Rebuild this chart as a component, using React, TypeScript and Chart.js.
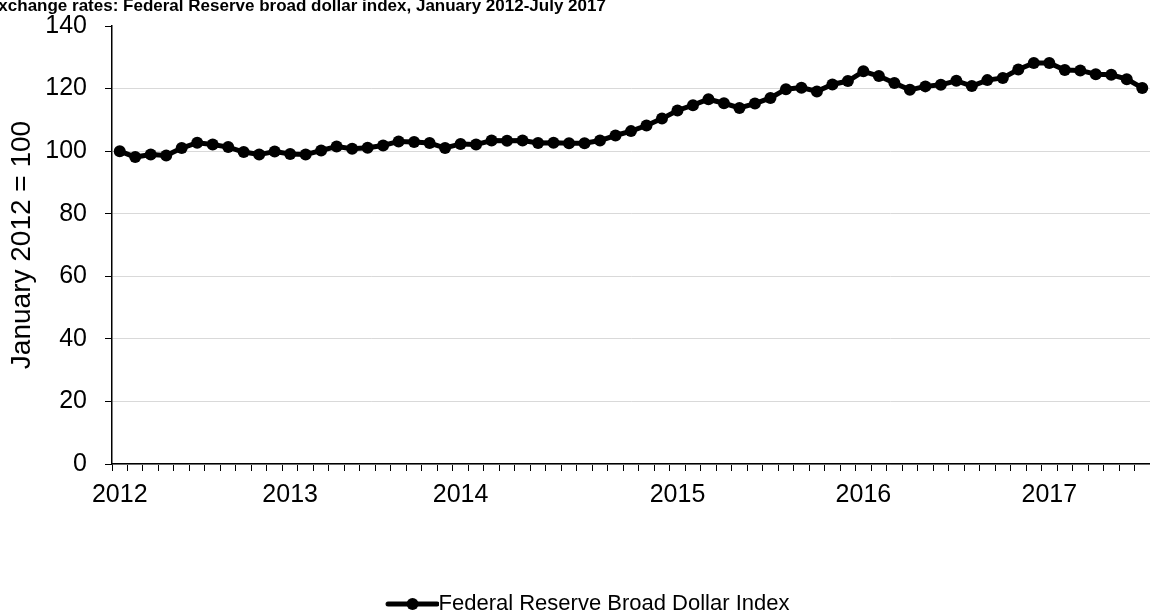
import React, { useEffect, useRef } from 'react';
import { Chart, registerables } from 'chart.js';

Chart.register(...registerables);

const TITLE = 'Exchange rates: Federal Reserve broad dollar index, January 2012-July 2017';
const SERIES_NAME = 'Federal Reserve Broad Dollar Index';
const Y_AXIS_TITLE = 'January 2012 = 100';

const MONTHS = ['Jan', 'Feb', 'Mar', 'Apr', 'May', 'Jun', 'Jul', 'Aug', 'Sep', 'Oct', 'Nov', 'Dec'];
const YEARS = [2012, 2013, 2014, 2015, 2016, 2017];

const values2012 = [100.0, 98.1, 98.9, 98.6, 101.0, 102.7, 102.1, 101.3, 99.7, 98.9, 99.9, 99.1];
const values2013 = [98.9, 100.2, 101.5, 100.8, 101.1, 101.8, 103.1, 102.9, 102.6, 101.0, 102.3, 102.1];
const values2014 = [103.4, 103.3, 103.4, 102.6, 102.7, 102.5, 102.5, 103.4, 105.0, 106.4, 108.2, 110.4];
const values2015 = [113.0, 114.7, 116.6, 115.3, 113.8, 115.2, 117.0, 119.8, 120.3, 119.1, 121.3, 122.4];
const values2016 = [125.5, 124.0, 121.8, 119.6, 120.7, 121.2, 122.5, 120.8, 122.7, 123.4, 126.1, 128.2];
const values2017 = [128.2, 125.9, 125.8, 124.6, 124.4, 123.0, 120.2];

const values = [...values2012, ...values2013, ...values2014, ...values2015, ...values2016, ...values2017];
const categories = YEARS.flatMap((y) => MONTHS.map((m) => `${m} ${y}`)).slice(0, values.length);

// year labels as placed on the reference axis
const yearTickLabels = ['2012', '2013', '2014', '2015', '2016', '2017'];
const yearTickIndex = [0, 11, 22, 36, 48, 60];

const Y_MIN = 0;
const Y_MAX = 140;
const Y_STEP = 20;

const FONT = '"Liberation Sans", Arial, Helvetica, sans-serif';

export default function App() {
  const ref = useRef<HTMLCanvasElement>(null);

  useEffect(() => {
    document.body.style.margin = '0';
    const canvas = ref.current;
    if (!canvas) return;

    const icon = document.createElement('canvas');
    icon.width = 90;
    icon.height = 16;
    const g = icon.getContext('2d');
    if (g) {
      g.strokeStyle = '#000';
      g.lineWidth = 5;
      g.lineCap = 'round';
      g.beginPath();
      g.moveTo(39, 8);
      g.lineTo(88, 8);
      g.stroke();
      g.fillStyle = '#000';
      g.beginPath();
      g.arc(63.5, 8, 6, 0, Math.PI * 2);
      g.fill();
    }

    const titlePlugin = {
      id: 'cutTitle',
      afterDraw(chart: any) {
        const c = chart.ctx;
        c.save();
        c.font = `bold 17px ${FONT}`;
        c.fillStyle = '#000';
        c.textAlign = 'left';
        c.textBaseline = 'alphabetic';
        c.fillText(TITLE, -13, 11);
        c.restore();
      },
    };

    Chart.defaults.font.family = FONT;

    const chart = new Chart(canvas, {
      type: 'line',
      data: {
        labels: categories,
        datasets: [
          {
            label: SERIES_NAME,
            data: values,
            borderColor: '#000',
            backgroundColor: '#000',
            borderWidth: 5,
            pointRadius: 6,
            pointBackgroundColor: '#000',
            pointBorderColor: '#000',
            pointBorderWidth: 0,
            tension: 0,
          },
        ],
      },
      options: {
        animation: false,
        responsive: false,
        layout: { autoPadding: false, padding: { top: 26, left: 0, right: 0, bottom: -12 } },
        plugins: {
          legend: {
            position: 'bottom',
            labels: {
              usePointStyle: true,
              pointStyle: icon as any,
              pointStyleWidth: 67,
              boxHeight: 16,
              padding: 0,
              color: '#000',
              font: { size: 22, lineHeight: 1 },
            },
          },
          tooltip: { enabled: false },
        },
        scales: {
          x: {
            type: 'category',
            offset: true,
            grid: {
              offset: true,
              drawOnChartArea: false,
              drawTicks: true,
              tickLength: 7,
              tickColor: '#000',
              tickWidth: 1,
            },
            border: { color: '#000', width: 1.5 },
            ticks: {
              autoSkip: false,
              maxRotation: 0,
              minRotation: 0,
              padding: 9,
              color: '#000',
              font: { size: 25 },
              callback: (_v: any, i: number) => {
                const k = yearTickIndex.indexOf(i);
                return k >= 0 ? yearTickLabels[k] : '';
              },
            },
            afterFit: (s: any) => {
              s.height = 129;
              s.paddingLeft = 0;
              s.paddingRight = 0;
            },
          },
          y: {
            min: Y_MIN,
            max: Y_MAX,
            ticks: { stepSize: Y_STEP, padding: 18, color: '#000', font: { size: 25 } },
            grid: {
              color: (ctx: any) => (ctx.tick && ctx.tick.value === Y_MAX ? 'rgba(0,0,0,0)' : '#d9d9d9'),
              lineWidth: 1,
              tickColor: '#000',
              tickLength: 7,
            },
            border: { color: '#000', width: 1.5 },
            title: {
              display: true,
              text: Y_AXIS_TITLE,
              color: '#000',
              font: { size: 28 },
              padding: { top: 5, bottom: 0 },
            },
            afterFit: (s: any) => {
              s.width = 112;
              s.paddingTop = 0;
              s.paddingBottom = 0;
            },
          },
        },
      },
      plugins: [titlePlugin],
    });

    return () => chart.destroy();
  }, []);

  return (
    <canvas
      ref={ref}
      width={1150}
      height={613}
      style={{ display: 'block', width: 1150, height: 613 }}
    />
  );
}
